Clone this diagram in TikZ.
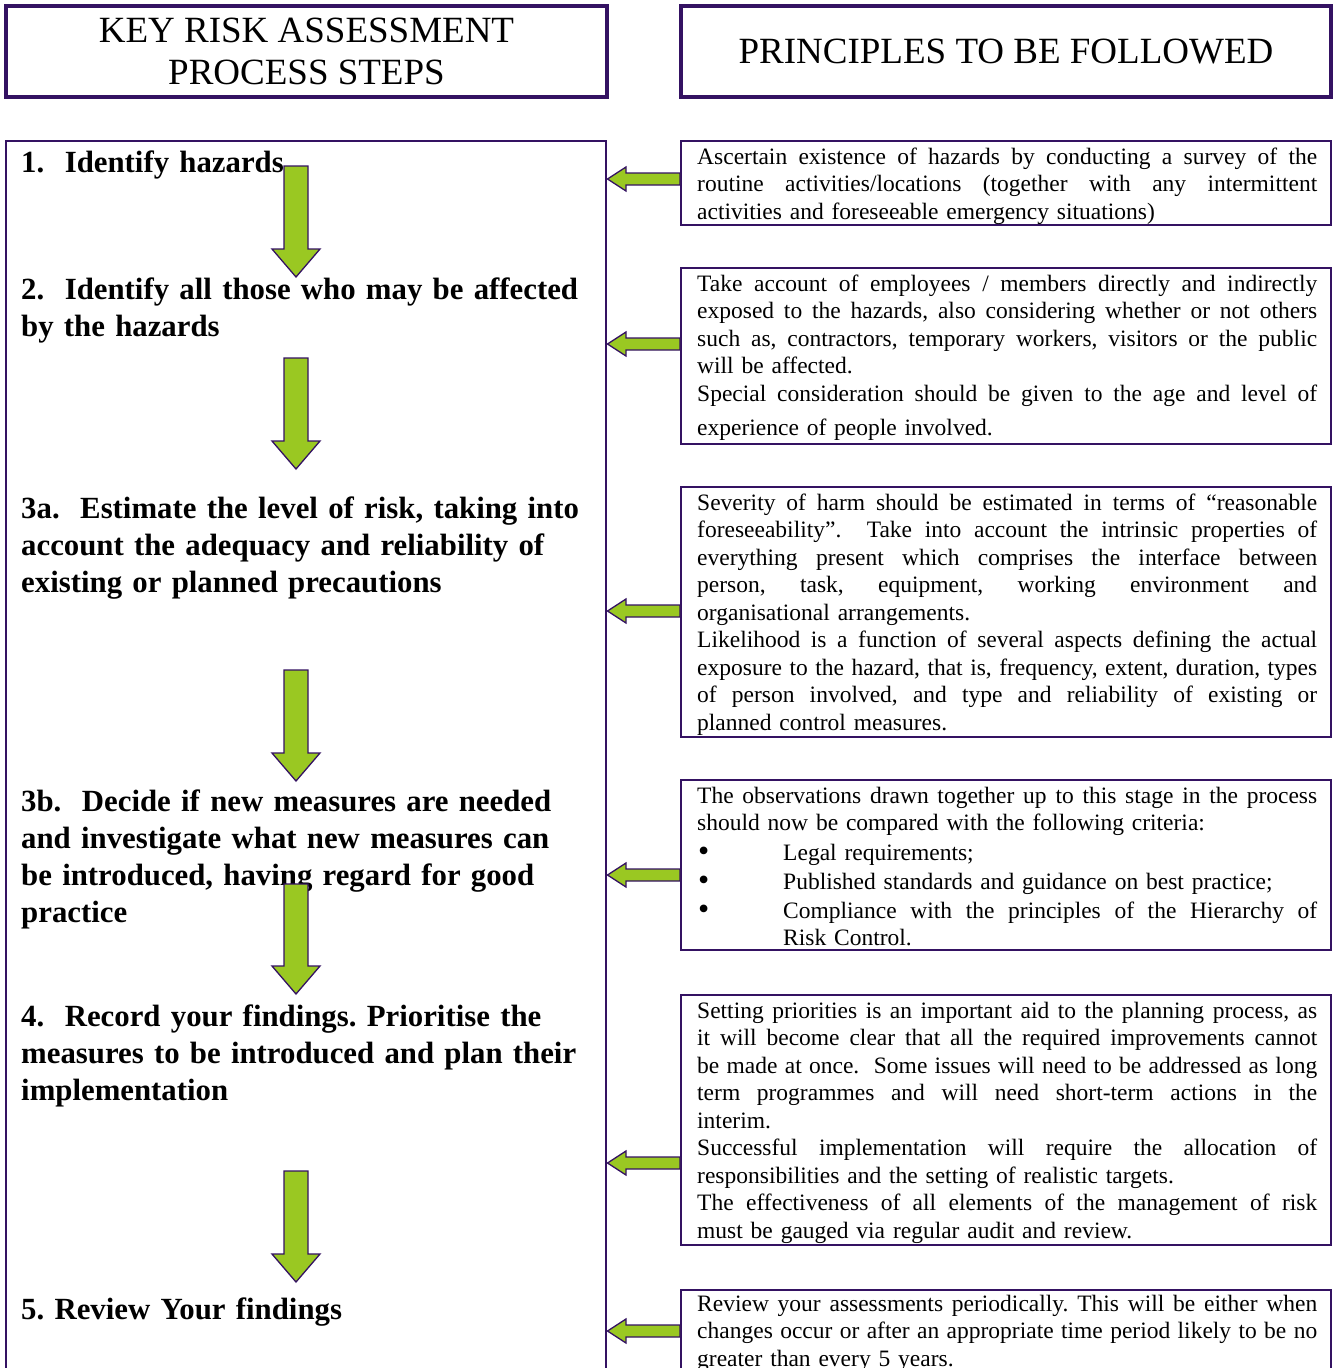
\documentclass[tikz,border=0pt]{standalone}
\usepackage{fontspec}
\setmainfont{Liberation Serif}
\definecolor{frame}{RGB}{52,18,98}
\definecolor{arrowgreen}{RGB}{154,200,34}
\newcommand{\jl}[1]{\leavevmode\hbox to 620pt{\spaceskip=0.25em plus 1fil minus 0.1em\xspaceskip=\spaceskip #1}}
\newcommand{\jlb}[1]{\leavevmode\hbox to 534pt{\spaceskip=0.25em plus 1fil minus 0.1em\xspaceskip=\spaceskip #1}}
\newcommand{\bul}{\leavevmode\makebox[86pt][l]{\hspace*{1pt}\raisebox{-1.5pt}[10pt][0pt]{\fontsize{32}{32}\selectfont •}}}
\newcommand{\larr}[1]{\draw[blockarrow] (680,#1-6) -- (626,#1-6) -- (626,#1-12) -- (607.5,#1) -- (626,#1+12) -- (626,#1+6) -- (680,#1+6) -- cycle;}
\newcommand{\darr}[2]{\draw[blockarrow] (284,#1) -- (308,#1) -- (308,#2-28) -- (320,#2-28) -- (296,#2) -- (272,#2-28) -- (284,#2-28) -- cycle;}
\tikzset{
  headbox/.style={draw=frame, line width=4pt},
  thinbox/.style={draw=frame, line width=1.2pt},
  headtext/.style={inner sep=0pt, align=center, font=\fontsize{37}{42}\selectfont},
  steptext/.style={anchor=north west, inner sep=0pt, text width=585pt, align=left, font=\fontsize{30.8}{37}\selectfont\bfseries\frenchspacing},
  bodytext/.style={anchor=north west, inner sep=0pt, text width=620pt, align=left, font=\fontsize{23.5}{27.5}\selectfont\frenchspacing},
  blockarrow/.style={fill=arrowgreen, draw=frame, line width=1.3pt, line join=miter},
}
\begin{document}
\begin{tikzpicture}[x=1pt,y=-1pt]
\useasboundingbox (0,0) rectangle (1335,1368);
\fill[white] (0,0) rectangle (1335,1368);
\clip (0,0) rectangle (1335,1368);
% headers
\draw[headbox] (6,6) rectangle (607,97);
\draw[headbox] (681,6) rectangle (1331,97);
\node[headtext, anchor=north] (hl) at (306.5,14) {\rule{0pt}{28pt}KEY RISK ASSESSMENT\\PROCESS STEPS};
\node[headtext, anchor=base] (hr) at (1006,63) {PRINCIPLES TO BE FOLLOWED};
% left column
\draw[thinbox] (6,1380) -- (6,141) -- (606,141) -- (606,1380);
% right boxes
\draw[thinbox] (681,141) rectangle (1331,225);
\draw[thinbox] (681,268) rectangle (1331,444);
\draw[thinbox] (681,487) rectangle (1331,737);
\draw[thinbox] (681,780) rectangle (1331,950);
\draw[thinbox] (681,995) rectangle (1331,1245);
\draw[thinbox] (681,1290) rectangle (1331,1390);
% step texts
\node[steptext] (s1) at (21,148) {\rule{0pt}{24pt}1.\ \ Identify hazards};
\node[steptext] (s2) at (21,275) {\rule{0pt}{24pt}2.\ \ Identify all those who may be affected\\by the hazards};
\node[steptext] (s3a) at (21,494) {\rule{0pt}{24pt}3a.\ \ Estimate the level of risk, taking into\\account the adequacy and reliability of\\existing or planned precautions};
\node[steptext] (s3b) at (21,787) {\rule{0pt}{24pt}3b.\ \ Decide if new measures are needed\\and investigate what new measures can\\be introduced, having regard for good\\practice};
\node[steptext] (s4) at (21,1002) {\rule{0pt}{24pt}4.\ \ Record your findings. Prioritise the\\measures to be introduced and plan their\\implementation};
\node[steptext] (s5) at (21,1295) {\rule{0pt}{24pt}5. Review Your findings};
% principle texts
\node[bodytext] (p1) at (697,144) {\rule{0pt}{20pt}\jl{Ascertain existence of hazards by conducting a survey of the}\\
\jl{routine activities/locations (together with any intermittent}\\
activities and foreseeable emergency situations)};
\node[bodytext] (p2) at (697,271) {\rule{0pt}{20pt}\jl{Take account of employees / members directly and indirectly}\\
\jl{exposed to the hazards, also considering whether or not others}\\
\jl{such as, contractors, temporary workers, visitors or the public}\\
will be affected.\\
\jl{Special consideration should be given to the age and level of}\\[7pt]
experience of people involved.};
\node[bodytext] (p3) at (697,490) {\rule{0pt}{20pt}\jl{Severity of harm should be estimated in terms of “reasonable}\\
\jl{foreseeability”.\ \ Take into account the intrinsic properties of}\\
\jl{everything present which comprises the interface between}\\
\jl{person, task, equipment, working environment and}\\
organisational arrangements.\\
\jl{Likelihood is a function of several aspects defining the actual}\\
\jl{exposure to the hazard, that is, frequency, extent, duration, types}\\
\jl{of person involved, and type and reliability of existing or}\\
planned control measures.};
\node[bodytext] (p4) at (697,783) {\rule{0pt}{20pt}\jl{The observations drawn together up to this stage in the process}\\
should now be compared with the following criteria:\\[2pt]
\bul Legal requirements;\\[1.5pt]
\bul Published standards and guidance on best practice;\\[1.5pt]
\bul\jlb{Compliance with the principles of the Hierarchy of}\\
\hspace*{86pt}Risk Control.};
\node[bodytext] (p5) at (697,998) {\rule{0pt}{20pt}\jl{Setting priorities is an important aid to the planning process, as}\\
\jl{it will become clear that all the required improvements cannot}\\
\jl{be made at once.\ \ Some issues will need to be addressed as long}\\
\jl{term programmes and will need short-term actions in the}\\
interim.\\
\jl{Successful implementation will require the allocation of}\\
responsibilities and the setting of realistic targets.\\
\jl{The effectiveness of all elements of the management of risk}\\
must be gauged via regular audit and review.};
\node[bodytext] (p6) at (697,1291) {\rule{0pt}{20pt}\jl{Review your assessments periodically. This will be either when}\\
\jl{changes occur or after an appropriate time period likely to be no}\\
greater than every 5 years.};
% down arrows
\darr{166}{277}
\darr{358}{469}
\darr{670}{781}
\darr{884}{994}
\darr{1171}{1282}
% left arrows
\larr{179}
\larr{344}
\larr{611}
\larr{875}
\larr{1163}
\larr{1331}
\end{tikzpicture}
\end{document}
